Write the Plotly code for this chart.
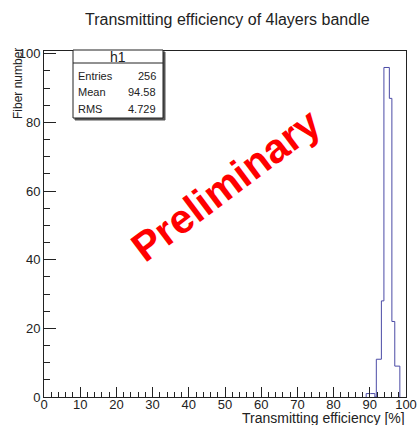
import plotly.graph_objects as go

# ---- data ----
bin_edges = [89.0, 90.2, 91.4, 91.8, 93.2, 93.9, 95.4, 96.1, 96.9, 98.3]
bin_counts = [1, 1, 0, 11, 28, 96, 87, 22, 9]
stats_labels = ["Entries", "Mean", "RMS"]
stats_values = ["256", "94.58", "4.729"]
hist_name = "h1"
title_text = "Transmitting efficiency of 4layers bandle"
x_title = "Transmitting efficiency [%]"
y_title = "Fiber number"
watermark = "Preliminary"

W, H = 419, 425
L, R, T, B = 44, 13, 51, 28
pw, ph = W - L - R, H - T - B

def px(xp):
    return (xp - L) / pw

def py(yp):
    return (H - B - yp) / ph

xs = [bin_edges[0]] + bin_edges
ys = [0] + bin_counts + [0]

fig = go.Figure()
fig.add_trace(go.Scatter(x=xs, y=ys, mode="lines", line=dict(color="#4b4ba6", width=1, shape="hv"),
                         showlegend=False, hoverinfo="skip"))

font = "Liberation Sans, Arial, Helvetica, sans-serif"
fig.update_layout(
    width=W, height=H,
    margin=dict(l=L, r=R, t=T, b=B),
    paper_bgcolor="white", plot_bgcolor="white",
    font=dict(family=font, size=12, color="#222"),
    showlegend=False,
)
fig.update_xaxes(range=[0, 100], dtick=10, tick0=0, ticks="inside", ticklen=10, tickcolor="#222",
                 showline=True, linecolor="#222", linewidth=1, mirror=True, showgrid=False, zeroline=False,
                 minor=dict(dtick=2, ticks="inside", ticklen=5, tickcolor="#222"),
                 tickfont=dict(size=13), ticklabelstandoff=-5, automargin=False)
fig.update_yaxes(range=[0, 100.8], dtick=20, tick0=0, ticks="inside", ticklen=12, tickcolor="#222",
                 showline=True, linecolor="#222", linewidth=1, mirror=True, showgrid=False, zeroline=False,
                 minor=dict(dtick=5, ticks="inside", ticklen=6, tickcolor="#222"),
                 tickfont=dict(size=13), automargin=False)

ann = []
ann.append(dict(text=title_text, x=px(227), y=py(20), xref="paper", yref="paper", showarrow=False,
                xanchor="center", yanchor="middle", font=dict(size=16, color="#222")))
ann.append(dict(text=x_title, x=px(407), y=py(418), xref="paper", yref="paper", showarrow=False,
                xanchor="right", yanchor="middle", font=dict(size=14, color="#222")))
ann.append(dict(text=y_title, x=px(18), y=py(84), xref="paper", yref="paper", showarrow=False,
                xanchor="center", yanchor="middle", textangle=-90, font=dict(size=12, color="#222")))
ann.append(dict(text=watermark, x=px(226), y=py(185), xref="paper", yref="paper", showarrow=False,
                xanchor="center", yanchor="middle", textangle=-37,
                font=dict(size=41, color="#ff0000", family="Liberation Sans, Arial, sans-serif", weight="bold")))

# stats box
bx0, bx1, by0, by1, bhead = 73, 163, 50, 118, 63
shapes = [
    dict(type="rect", xref="paper", yref="paper", x0=px(bx0 + 2), x1=px(bx1 + 2), y0=py(by1 + 2), y1=py(by0 + 2),
         line=dict(color="#555", width=1), fillcolor="#555", layer="above"),
    dict(type="rect", xref="paper", yref="paper", x0=px(bx0), x1=px(bx1), y0=py(by1), y1=py(by0),
         line=dict(color="#222", width=1), fillcolor="white", layer="above"),
    dict(type="line", xref="paper", yref="paper", x0=px(bx0), x1=px(bx1), y0=py(bhead), y1=py(bhead),
         line=dict(color="#222", width=1), layer="above"),
]
ann.append(dict(text=hist_name, x=px((bx0 + bx1) / 2), y=py(57), xref="paper", yref="paper", showarrow=False,
                xanchor="center", yanchor="middle", font=dict(size=14, color="#222")))
row_y = [76, 92, 109]
for lab, val, yy in zip(stats_labels, stats_values, row_y):
    ann.append(dict(text=lab, x=px(76), y=py(yy), xref="paper", yref="paper", showarrow=False,
                    xanchor="left", yanchor="middle", font=dict(size=11, color="#222")))
    ann.append(dict(text=val, x=px(158), y=py(yy), xref="paper", yref="paper", showarrow=False,
                    xanchor="right", yanchor="middle", font=dict(size=11, color="#222")))

fig.update_layout(annotations=ann, shapes=shapes)
css = "margin:0;padding:0;overflow:hidden;"
fig.write_html(
    "out.html",
    config={"displayModeBar": False, "staticPlot": True},
    post_script=(
        "document.documentElement.style.cssText='" + css + "';"
        "document.body.style.cssText='" + css + "';"
    ),
)
